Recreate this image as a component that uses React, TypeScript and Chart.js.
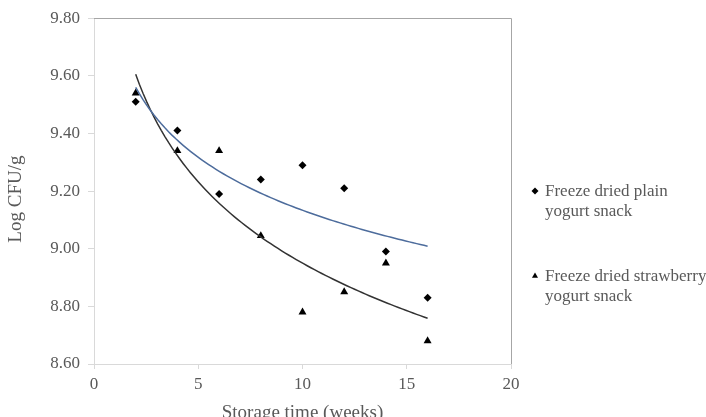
import React, { useEffect, useRef } from "react";
import { Chart, registerables } from "chart.js";

Chart.register(...registerables);

// ---- data ----
const weeks = [2, 4, 6, 8, 10, 12, 14, 16];
const plainLogCfu = [9.51, 9.41, 9.19, 9.24, 9.29, 9.21, 8.99, 8.83];
const strawberryLogCfu = [9.54, 9.34, 9.34, 9.045, 8.78, 8.85, 8.95, 8.68];
const seriesNames = ["Freeze dried plain yogurt snack", "Freeze dried strawberry yogurt snack"];
const legendLines = [
  ["Freeze dried plain", "yogurt snack"],
  ["Freeze dried strawberry", "yogurt snack"],
];
const xTickValues = [0, 5, 10, 15, 20];
const yTickValues = [8.6, 8.8, 9.0, 9.2, 9.4, 9.6, 9.8];
const xTitle = "Storage time (weeks)";
const yTitle = "Log CFU/g";

const TEXT = "#595959";
const FONT = "'Liberation Serif', 'Times New Roman', serif";
const PLAIN_TREND = "#4d6c9c";
const STRAW_TREND = "#333333";

// logarithmic least-squares trendline (as in the spreadsheet), computed from the data
function logFit(xs: number[], ys: number[]) {
  const lx = xs.map((v) => Math.log(v));
  const n = xs.length;
  const mx = lx.reduce((s, v) => s + v, 0) / n;
  const my = ys.reduce((s, v) => s + v, 0) / n;
  let sxy = 0;
  let sxx = 0;
  for (let i = 0; i < n; i++) {
    sxy += (lx[i] - mx) * (ys[i] - my);
    sxx += (lx[i] - mx) * (lx[i] - mx);
  }
  const b = sxy / sxx;
  return { a: my - b * mx, b };
}
function trendPoints(xs: number[], ys: number[]) {
  const { a, b } = logFit(xs, ys);
  const x0 = Math.min(...xs);
  const x1 = Math.max(...xs);
  const pts: { x: number; y: number }[] = [];
  const steps = 80;
  for (let i = 0; i <= steps; i++) {
    const x = x0 + ((x1 - x0) * i) / steps;
    pts.push({ x, y: a + b * Math.log(x) });
  }
  return pts;
}

const framePlugin = {
  id: "frameBorder",
  beforeDatasetsDraw(chart: any) {
    const { ctx, chartArea } = chart;
    const { left, top, right, bottom } = chartArea;
    ctx.save();
    ctx.strokeStyle = "#a6a6a6";
    ctx.lineWidth = 1;
    ctx.beginPath();
    ctx.moveTo(Math.round(left), Math.round(top) + 0.5);
    ctx.lineTo(Math.round(right) + 0.5, Math.round(top) + 0.5);
    ctx.lineTo(Math.round(right) + 0.5, Math.round(bottom));
    ctx.stroke();
    ctx.restore();
  },
};

const yTitlePlugin = {
  id: "yTitle",
  afterDraw(chart: any) {
    const { ctx, chartArea } = chart;
    const cy = (chartArea.top + chartArea.bottom) / 2 + 8;
    ctx.save();
    ctx.translate(16, cy);
    ctx.rotate(-Math.PI / 2);
    ctx.font = `19px ${FONT}`;
    ctx.fillStyle = TEXT;
    ctx.textAlign = "center";
    ctx.textBaseline = "middle";
    ctx.fillText(yTitle, 0, 0);
    ctx.restore();
  },
};

function drawMarker(ctx: CanvasRenderingContext2D, style: string, x: number, y: number, r: number) {
  ctx.beginPath();
  if (style === "rectRot") {
    ctx.moveTo(x, y - r);
    ctx.lineTo(x + r, y);
    ctx.lineTo(x, y + r);
    ctx.lineTo(x - r, y);
  } else {
    ctx.moveTo(x, y - r);
    ctx.lineTo(x + r * 0.866, y + r * 0.5);
    ctx.lineTo(x - r * 0.866, y + r * 0.5);
  }
  ctx.closePath();
  ctx.fill();
}

const legendPlugin = {
  id: "sideLegend",
  afterDraw(chart: any) {
    const { ctx, chartArea } = chart;
    const cy = (chartArea.top + chartArea.bottom) / 2;
    const mx = chartArea.right + 24;
    const tx = chartArea.right + 34;
    const styles = ["rectRot", "triangle"];
    ctx.save();
    ctx.font = `17px ${FONT}`;
    ctx.textBaseline = "middle";
    ctx.textAlign = "left";
    legendLines.forEach((lines, i) => {
      const y0 = cy + i * 85;
      ctx.fillStyle = "#000000";
      drawMarker(ctx, styles[i], mx, y0, 3.5);
      ctx.fillStyle = TEXT;
      lines.forEach((line, j) => ctx.fillText(line, tx, y0 + j * 20));
    });
    ctx.restore();
  },
};

export default function App() {
  const canvasRef = useRef<HTMLCanvasElement | null>(null);

  useEffect(() => {
    const canvas = canvasRef.current;
    if (!canvas) return;
    const plainPts = weeks.map((w, i) => ({ x: w, y: plainLogCfu[i] }));
    const strawPts = weeks.map((w, i) => ({ x: w, y: strawberryLogCfu[i] }));

    const chart = new Chart(canvas, {
      type: "scatter",
      data: {
        datasets: [
          {
            label: seriesNames[0] + " trend",
            data: trendPoints(weeks, plainLogCfu),
            showLine: true,
            pointRadius: 0,
            borderColor: PLAIN_TREND,
            borderWidth: 1.5,
            tension: 0,
          },
          {
            label: seriesNames[1] + " trend",
            data: trendPoints(weeks, strawberryLogCfu),
            showLine: true,
            pointRadius: 0,
            borderColor: STRAW_TREND,
            borderWidth: 1.5,
            tension: 0,
          },
          {
            label: seriesNames[0],
            data: plainPts,
            pointStyle: "rectRot",
            pointRadius: 4,
            backgroundColor: "#000000",
            borderColor: "#000000",
            borderWidth: 0,
          },
          {
            label: seriesNames[1],
            data: strawPts,
            pointStyle: "triangle",
            pointRadius: 4.6,
            backgroundColor: "#000000",
            borderColor: "#000000",
            borderWidth: 0,
          },
        ],
      },
      options: {
        responsive: false,
        animation: false,
        devicePixelRatio: 1,
        layout: { padding: { left: 0, top: 17, right: 195, bottom: 0 } },
        plugins: {
          legend: { display: false },
          tooltip: { enabled: false },
        },
        scales: {
          x: {
            type: "linear",
            min: 0,
            max: 20,
            afterBuildTicks: (s: any) => {
              s.ticks = xTickValues.map((v) => ({ value: v }));
            },
            afterFit: (s: any) => {
              s.height = 60;
            },
            grid: {
              display: true,
              drawOnChartArea: false,
              drawTicks: true,
              tickLength: 5,
              color: "#d9d9d9",
            },
            border: { display: true, color: "#d9d9d9", width: 1 },
            ticks: {
              color: TEXT,
              font: { family: FONT, size: 17 },
              padding: 5,
              maxRotation: 0,
              callback: (v: any) => String(v),
            },
            title: {
              display: true,
              text: xTitle,
              color: TEXT,
              font: { family: FONT, size: 19 },
              padding: { top: 0, bottom: 0 },
            },
          },
          y: {
            type: "linear",
            min: 8.6,
            max: 9.8,
            afterBuildTicks: (s: any) => {
              s.ticks = yTickValues.map((v) => ({ value: v }));
            },
            afterFit: (s: any) => {
              s.width = 94;
            },
            grid: {
              display: true,
              drawOnChartArea: false,
              drawTicks: true,
              tickLength: 6,
              color: "#d9d9d9",
            },
            border: { display: true, color: "#d9d9d9", width: 1 },
            ticks: {
              color: TEXT,
              font: { family: FONT, size: 17 },
              padding: 8,
              callback: (v: any) => Number(v).toFixed(2),
            },
            title: { display: false, text: yTitle },
          },
        },
      },
      plugins: [framePlugin, yTitlePlugin, legendPlugin],
    });
    return () => chart.destroy();
  }, []);

  return (
    <div
      style={{
        position: "absolute",
        left: 0,
        top: 0,
        width: 706,
        height: 417,
        overflow: "hidden",
        background: "#ffffff",
      }}
    >
      <canvas ref={canvasRef} width={706} height={424} style={{ display: "block", width: 706, height: 424 }} />
    </div>
  );
}
